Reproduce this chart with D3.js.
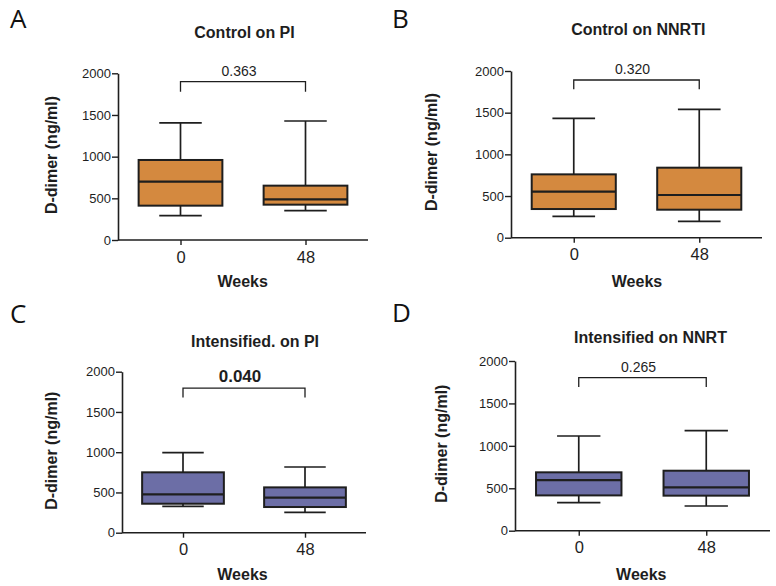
<!DOCTYPE html>
<html><head><meta charset="utf-8">
<script src="https://cdn.jsdelivr.net/npm/d3@7"></script>
<style>
body{margin:0;background:#fff;}
svg{display:block;}
</style>
</head><body>
<svg id="chart" width="776" height="586"></svg>
<script>
// ---- data ----
const panelLetters = ["A", "B", "C", "D"];
const panelTitles = ["Control on PI", "Control on NNRTI", "Intensified. on PI", "Intensified on NNRT"];
const categories = ["0", "48"];
const yTicks = [0, 500, 1000, 1500, 2000];
const pValues = ["0.363", "0.320", "0.040", "0.265"];
const pBold = [false, false, true, false];
// box stats per category: [whiskerLow, Q1, median, Q3, whiskerHigh]
const controlPI      = [[292, 412, 700, 960, 1405], [352, 424, 488, 652, 1428]];
const controlNNRTI   = [[256, 344, 552, 760, 1432], [196, 336, 512, 840, 1540]];
const intensifiedPI  = [[327, 360, 476, 750, 994],  [253, 319, 435, 563, 816]];
const intensifiedNNRTI = [[330, 416, 597, 688, 1116], [291, 413, 511, 707, 1179]];
// bracket heights (top, leg end) in data units
const bracketTop = [1900, 1892, 1797, 1804];
const bracketLeg = [1780, 1780, 1681, 1694];

const panelData = [controlPI, controlNNRTI, intensifiedPI, intensifiedNNRTI];
const fills = ["#D4893F", "#D4893F", "#6C6EA6", "#6C6EA6"];

// ---- layout ----
const layout = [
  {x0:118, x1:368, yT:73.3, yB:240, letter:[10,28], title:[244.5,38], ylab:[51.7,155], weeks:[242.7,286.7]},
  {x0:511, x1:762, yT:71, yB:237.7, letter:[392,28], title:[638.3,35], ylab:[431.7,152], weeks:[637,286.7]},
  {x0:122, x1:366, yT:371.7, yB:532.7, letter:[10,323.3], title:[255,346.7], ylab:[51.7,450.7], weeks:[242.5,580]},
  {x0:515, x1:770, yT:361, yB:530.7, letter:[392,321.7], title:[650.5,343], ylab:[441.7,443.7], weeks:[641.3,580]}
];

const svg = d3.select("#chart");
const FONT = "'Liberation Sans', Arial, Helvetica, sans-serif";
const INK = "#1e1e1e";

panelData.forEach((data, i) => {
  const L = layout[i];
  const g = svg.append("g");
  const x = d3.scalePoint().domain(categories).range([L.x0, L.x1]).padding(0.5);
  const y = d3.scaleLinear().domain([0, 2000]).range([L.yB, L.yT]);
  const step = x.step();
  const bw = step * 0.67, cw = step * 0.34;

  // panel letter
  g.append("text").attr("x", L.letter[0]).attr("y", L.letter[1])
    .attr("font-family", "'Open Sans', 'Noto Sans', sans-serif").attr("font-size", 26)
    .attr("fill", "#111").text(panelLetters[i]);
  // title
  g.append("text").attr("x", L.title[0]).attr("y", L.title[1]).attr("text-anchor", "middle")
    .attr("font-family", FONT).attr("font-weight", "bold").attr("font-size", 16)
    .attr("fill", INK).text(panelTitles[i]);

  // y axis
  const yAxis = g.append("g").attr("transform", `translate(${L.x0},0)`)
    .call(d3.axisLeft(y).tickValues(yTicks).tickFormat(d3.format("d")).tickSize(6).tickPadding(1).tickSizeOuter(0));
  yAxis.select(".domain").attr("stroke", INK).attr("stroke-width", 1.6);
  yAxis.selectAll(".tick line").attr("stroke", INK).attr("stroke-width", 1.4);
  yAxis.selectAll(".tick text").attr("font-family", FONT).attr("font-size", 13).attr("fill", INK);

  // x axis
  const xAxis = g.append("g").attr("transform", `translate(0,${L.yB})`)
    .call(d3.axisBottom(x).tickSize(5).tickPadding(6).tickSizeOuter(0));
  xAxis.select(".domain").attr("stroke", INK).attr("stroke-width", 1.6)
    .attr("d", `M${L.x0},0H${L.x1}`);
  xAxis.selectAll(".tick line").attr("stroke", INK).attr("stroke-width", 1.4);
  xAxis.selectAll(".tick text").attr("font-family", FONT).attr("font-size", 16.5).attr("fill", INK)
    .attr("dy", null).attr("y", 22.5);

  // y label
  g.append("text").attr("transform", `translate(${L.ylab[0]},${L.ylab[1]}) rotate(-90)`)
    .attr("text-anchor", "middle").attr("dy", "0.35em")
    .attr("font-family", FONT).attr("font-weight", "bold").attr("font-size", 16)
    .attr("fill", INK).text("D-dimer (ng/ml)");
  // x label
  g.append("text").attr("x", L.weeks[0]).attr("y", L.weeks[1]).attr("text-anchor", "middle")
    .attr("font-family", FONT).attr("font-weight", "bold").attr("font-size", 16)
    .attr("fill", INK).text("Weeks");

  // boxes
  data.forEach((d, j) => {
    const cx = x(categories[j]);
    const [lo, q1, med, q3, hi] = d;
    const bg = g.append("g");
    // whiskers
    bg.append("line").attr("x1", cx).attr("x2", cx).attr("y1", y(hi)).attr("y2", y(q3))
      .attr("stroke", INK).attr("stroke-width", 1.7);
    bg.append("line").attr("x1", cx).attr("x2", cx).attr("y1", y(q1)).attr("y2", y(lo))
      .attr("stroke", INK).attr("stroke-width", 1.7);
    bg.append("line").attr("x1", cx - cw/2).attr("x2", cx + cw/2).attr("y1", y(hi)).attr("y2", y(hi))
      .attr("stroke", INK).attr("stroke-width", 1.7);
    bg.append("line").attr("x1", cx - cw/2).attr("x2", cx + cw/2).attr("y1", y(lo)).attr("y2", y(lo))
      .attr("stroke", INK).attr("stroke-width", 1.7);
    // box
    bg.append("rect").attr("x", cx - bw/2).attr("width", bw)
      .attr("y", y(q3)).attr("height", y(q1) - y(q3))
      .attr("fill", fills[i]).attr("stroke", INK).attr("stroke-width", 2);
    // median
    bg.append("line").attr("x1", cx - bw/2).attr("x2", cx + bw/2).attr("y1", y(med)).attr("y2", y(med))
      .attr("stroke", INK).attr("stroke-width", 2.2);
  });

  // significance bracket
  const xa = x(categories[0]), xb = x(categories[1]);
  g.append("path")
    .attr("d", `M${xa},${y(bracketLeg[i])}V${y(bracketTop[i])}H${xb}V${y(bracketLeg[i])}`)
    .attr("fill", "none").attr("stroke", INK).attr("stroke-width", 1.3);
  g.append("text").attr("x", (xa + xb)/2 - 4).attr("y", y(bracketTop[i]) - 6)
    .attr("text-anchor", "middle").attr("font-family", FONT)
    .attr("font-weight", pBold[i] ? "bold" : "normal")
    .attr("font-size", pBold[i] ? 17 : 14).attr("fill", INK).text(pValues[i]);
});
</script>
</body></html>
